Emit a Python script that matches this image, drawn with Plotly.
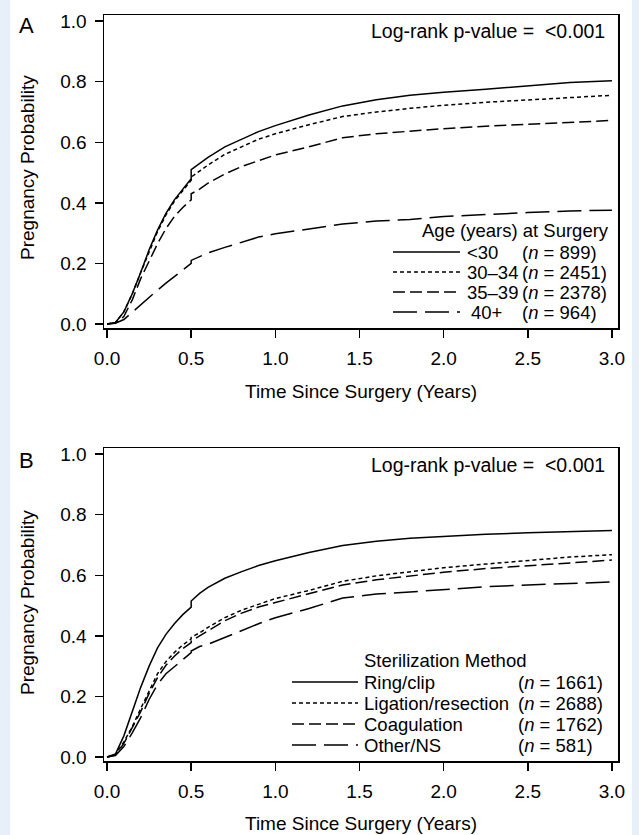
import plotly.graph_objects as go

# ---------------- data ----------------
t_a = [0, 0.05, 0.1, 0.15, 0.2, 0.25, 0.3, 0.35, 0.4, 0.45, 0.5, 0.5, 0.55, 0.6, 0.7, 0.8, 0.9,
       1.0, 1.2, 1.4, 1.6, 1.8, 2.0, 2.25, 2.5, 2.75, 3.0]
age_lt30 = [0, 0.005, 0.04, 0.10, 0.17, 0.245, 0.31, 0.365, 0.41, 0.445, 0.48, 0.51, 0.53, 0.55, 0.585,
            0.61, 0.635, 0.655, 0.69, 0.72, 0.74, 0.755, 0.765, 0.775, 0.787, 0.797, 0.803]
age_30_34 = [0, 0.005, 0.04, 0.10, 0.17, 0.24, 0.305, 0.36, 0.405, 0.44, 0.475, 0.485, 0.505, 0.525, 0.56,
             0.585, 0.61, 0.628, 0.658, 0.685, 0.70, 0.712, 0.722, 0.732, 0.74, 0.747, 0.755]
age_35_39 = [0, 0.003, 0.025, 0.08, 0.15, 0.21, 0.265, 0.315, 0.355, 0.385, 0.41, 0.43, 0.445, 0.465, 0.495,
             0.52, 0.54, 0.558, 0.585, 0.615, 0.628, 0.637, 0.645, 0.653, 0.66, 0.667, 0.672]
age_40p = [0, 0.003, 0.015, 0.04, 0.065, 0.09, 0.112, 0.135, 0.157, 0.18, 0.20, 0.21, 0.222, 0.235, 0.253,
           0.27, 0.287, 0.298, 0.315, 0.33, 0.34, 0.345, 0.355, 0.362, 0.368, 0.373, 0.376]

t_b = t_a
ring_clip = [0, 0.01, 0.07, 0.15, 0.23, 0.30, 0.36, 0.405, 0.44, 0.47, 0.495, 0.515, 0.54, 0.56, 0.59,
             0.612, 0.632, 0.648, 0.675, 0.698, 0.712, 0.722, 0.728, 0.735, 0.74, 0.745, 0.748]
ligation = [0, 0.008, 0.05, 0.10, 0.16, 0.22, 0.275, 0.315, 0.345, 0.37, 0.39, 0.395, 0.41, 0.428, 0.46,
            0.485, 0.505, 0.523, 0.55, 0.58, 0.598, 0.612, 0.625, 0.637, 0.648, 0.66, 0.668]
coagulation = [0, 0.007, 0.045, 0.095, 0.15, 0.21, 0.262, 0.303, 0.333, 0.358, 0.378, 0.383, 0.40, 0.418, 0.45,
               0.475, 0.495, 0.51, 0.54, 0.568, 0.585, 0.598, 0.61, 0.622, 0.632, 0.642, 0.65]
other_ns = [0, 0.005, 0.035, 0.08, 0.13, 0.19, 0.24, 0.275, 0.298, 0.32, 0.345, 0.35, 0.365, 0.372, 0.395,
            0.418, 0.44, 0.46, 0.49, 0.525, 0.538, 0.545, 0.553, 0.562, 0.568, 0.573, 0.578]

x_ticks = [0.0, 0.5, 1.0, 1.5, 2.0, 2.5, 3.0]
x_tick_labels = ["0.0", "0.5", "1.0", "1.5", "2.0", "2.5", "3.0"]
y_ticks = [0.0, 0.2, 0.4, 0.6, 0.8, 1.0]
y_tick_labels = ["0.0", "0.2", "0.4", "0.6", "0.8", "1.0"]

legend_a_title = "Age (years) at Surgery"
legend_a_labels = ["<30", "30–34", "35–39", "40+"]
legend_a_n = ["899", "2451", "2378", "964"]
legend_b_title = "Sterilization Method"
legend_b_labels = ["Ring/clip", "Ligation/resection", "Coagulation", "Other/NS"]
legend_b_n = ["1661", "2688", "1762", "581"]

dashes = ["solid", "4px,3px", "12px,5px", "24px,8px"]

# ---------------- layout helpers ----------------
W, H = 639, 835
ML, MR, MT, MB = 104, 21, 15, 74
PW = W - ML - MR
PH = H - MT - MB
FONT = "Liberation Sans, Arial, sans-serif"
BG = "#e7eff9"


def px(xp):
    return (xp - ML) / PW


def py(yp):
    return (H - MB - yp) / PH


fig = go.Figure()

for ys, d, name in zip([age_lt30, age_30_34, age_35_39, age_40p], dashes, legend_a_labels):
    fig.add_trace(go.Scatter(x=t_a, y=ys, mode="lines", name=name, xaxis="x", yaxis="y",
                             line=dict(color="black", width=1.5, dash=d), showlegend=False))
for ys, d, name in zip([ring_clip, ligation, coagulation, other_ns], dashes, legend_b_labels):
    fig.add_trace(go.Scatter(x=t_b, y=ys, mode="lines", name=name, xaxis="x2", yaxis="y2",
                             line=dict(color="black", width=1.5, dash=d), showlegend=False))

axis_common = dict(range=[-0.018, 3.036], tickvals=x_ticks, ticktext=x_tick_labels,
                   ticks="outside", ticklen=8, tickwidth=1.5, tickcolor="black",
                   showline=True, linecolor="black", linewidth=1.5, mirror=True,
                   showgrid=False, zeroline=False, ticklabelstandoff=5,
                   tickfont=dict(family=FONT, size=19, color="black"))
yaxis_common = dict(range=[-0.013, 1.02], tickvals=y_ticks, ticktext=y_tick_labels,
                    ticks="outside", ticklen=8, tickwidth=1.5, tickcolor="black",
                    showline=True, linecolor="black", linewidth=1.5, mirror=True,
                    showgrid=False, zeroline=False, ticklabelstandoff=4,
                    tickfont=dict(family=FONT, size=19, color="black"))

dom_a = [py(328), 1.0]
dom_b = [0.0, py(448)]

fig.update_layout(
    width=W, height=H,
    margin=dict(l=ML, r=MR, t=MT, b=MB),
    paper_bgcolor=BG,
    plot_bgcolor="white",
    font=dict(family=FONT, color="black"),
    hovermode=False,
    xaxis=dict(axis_common, anchor="y"),
    yaxis=dict(yaxis_common, domain=dom_a, anchor="x"),
    xaxis2=dict(axis_common, anchor="y2"),
    yaxis2=dict(yaxis_common, domain=dom_b, anchor="x2"),
)

shapes = [dict(type="rect", xref="paper", yref="paper", x0=px(10), x1=px(632), y0=py(H + 5), y1=py(-5),
               fillcolor="white", line=dict(width=0), layer="below")]
ann = []


def text(x, y, s, size=18.5, xanchor="left", angle=0):
    ann.append(dict(x=px(x), y=py(y), xref="paper", yref="paper", text=s, showarrow=False,
                    xanchor=xanchor, yanchor="middle", textangle=angle,
                    font=dict(family=FONT, size=size, color="black")))


# panel labels, p-values, axis titles
text(17, 25, "A", size=22)
text(17, 460, "B", size=22)
text(607, 31, "Log-rank p-value = &nbsp;&lt;0.001", size=19.5, xanchor="right")
text(607, 465, "Log-rank p-value = &nbsp;&lt;0.001", size=19.5, xanchor="right")
text(361, 391, "Time Since Surgery (Years)", size=19, xanchor="center")
text(361, 823, "Time Since Surgery (Years)", size=19, xanchor="center")
text(27, 168, "Pregnancy Probability", size=19, xanchor="center", angle=-90)
text(27, 603, "Pregnancy Probability", size=19, xanchor="center", angle=-90)

# legend A
text(515, 231, legend_a_title, xanchor="center")
rows_a = [252, 272, 292, 312]
for i, (lab, n, d) in enumerate(zip(legend_a_labels, legend_a_n, dashes)):
    y = rows_a[i]
    shapes.append(dict(type="line", xref="paper", yref="paper", x0=px(393), x1=px(460), y0=py(y), y1=py(y),
                       line=dict(color="black", width=1.5, dash=d)))
    text(469 if lab == "40+" else 465, y, lab.replace("<", "&lt;"))
    text(520, y, "(<i>n</i> = " + n + ")")

# legend B
text(362, 660, legend_b_title)
rows_b = [682, 703, 724, 745]
for i, (lab, n, d) in enumerate(zip(legend_b_labels, legend_b_n, dashes)):
    y = rows_b[i]
    shapes.append(dict(type="line", xref="paper", yref="paper", x0=px(292), x1=px(358), y0=py(y), y1=py(y),
                       line=dict(color="black", width=1.5, dash=d)))
    text(362, y, lab)
    text(516, y, "(<i>n</i> = " + n + ")")

fig.update_layout(shapes=shapes, annotations=ann)
fig.write_html("out.html", config={"displayModeBar": False, "staticPlot": True},
               post_script="document.body.style.margin='0px';document.body.style.background='" + BG + "';")
